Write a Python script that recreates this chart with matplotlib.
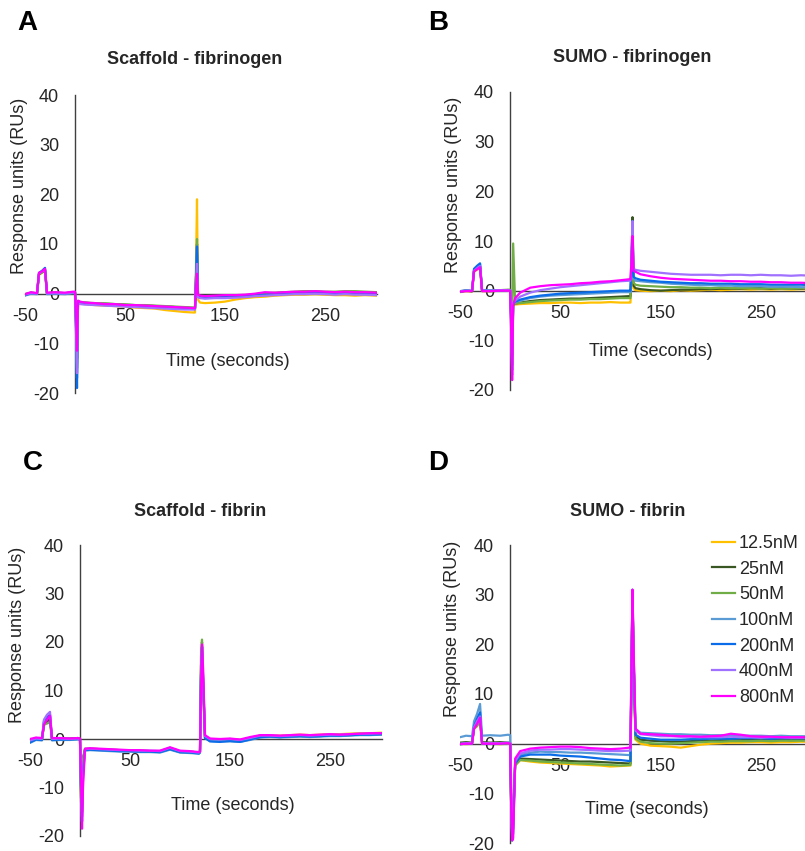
import numpy as np
import matplotlib.pyplot as plt

plt.rcParams['font.family'] = ['Liberation Sans', 'DejaVu Sans']
plt.rcParams['axes.unicode_minus'] = False

# sample times (seconds), shared by every sensorgram
time_s = [-50, -44, -38, -36, -33, -30, -28, -20, -10, -2,
          0, 1, 2, 3, 5,
          10, 20, 30, 40, 50, 60, 70, 80, 90, 100, 110,
          119, 120, 121, 122, 123, 125,
          130, 140, 150, 160, 170, 180, 190, 200, 210, 220, 230, 240, 250, 260, 270, 280, 290, 302]

conc_labels = ['12.5nM', '25nM', '50nM', '100nM', '200nM', '400nM', '800nM']
line_colors = ['#FFC000', '#385723', '#70AD47', '#5B9BD5', '#0A6CE8', '#A070FF', '#FF00FF']

# A: Scaffold - fibrinogen
a_125 = [-0.2, 0.1, 0.0, 3.8, 4.2, 4.6, 0.0, 0.1, 0.0, 0.2,
         0.2, -5, -14, -1.6, -2.0,
         -2.1, -2.3, -2.4, -2.5, -2.6, -2.8, -2.9, -3.0, -3.3, -3.5, -3.7,
         -3.8, -3.8, 6, 19, -1.2, -1.8,
         -1.9, -1.8, -1.6, -1.2, -0.9, -0.7, -0.6, -0.4, -0.3, -0.2, -0.2, -0.1, -0.2, -0.3, -0.3, -0.4, -0.3, -0.4]
a_25 = [-0.1, 0.2, 0.1, 3.9, 4.3, 4.7, 0.1, 0.2, 0.1, 0.3,
        0.3, -5, -13, -1.5, -1.7,
        -1.8, -2.0, -2.0, -2.1, -2.2, -2.3, -2.4, -2.5, -2.6, -2.7, -2.8,
        -2.9, -2.9, 3, 10, -0.4, -0.6,
        -0.7, -0.6, -0.5, -0.5, -0.4, -0.2, 0.0, 0.1, 0.2, 0.3, 0.4, 0.4, 0.3, 0.2, 0.3, 0.2, 0.2, 0.1]
a_50 = [-0.1, 0.1, 0.1, 4.0, 4.4, 4.8, 0.1, 0.2, 0.1, 0.2,
        0.3, -6, -15, -1.5, -1.7,
        -1.8, -1.9, -2.0, -2.1, -2.2, -2.3, -2.3, -2.4, -2.5, -2.6, -2.7,
        -2.8, -2.8, 4, 11, -0.3, -0.5,
        -0.6, -0.5, -0.5, -0.4, -0.3, -0.1, 0.1, 0.2, 0.3, 0.4, 0.5, 0.5, 0.4, 0.4, 0.5, 0.5, 0.4, 0.3]
a_100 = [-0.4, 0.0, -0.1, 4.1, 4.5, 5.0, -0.1, 0.0, -0.1, 0.1,
         0.2, -7, -17, -1.8, -2.0,
         -2.0, -2.2, -2.3, -2.4, -2.5, -2.6, -2.7, -2.8, -2.8, -2.9, -3.0,
         -3.1, -3.1, 3, 9, -0.6, -0.8,
         -0.9, -0.8, -0.8, -0.7, -0.6, -0.4, -0.3, -0.2, -0.1, 0.0, 0.0, 0.1, 0.0, -0.1, 0.0, -0.1, -0.1, -0.2]
a_200 = [-0.3, 0.1, 0.0, 4.2, 4.6, 5.2, 0.0, 0.1, 0.0, 0.2,
         0.2, -7, -19, -1.7, -1.9,
         -2.0, -2.1, -2.2, -2.3, -2.4, -2.5, -2.6, -2.7, -2.8, -2.9, -3.0,
         -3.0, -3.0, 3, 9.5, -0.5, -0.7,
         -0.8, -0.7, -0.7, -0.6, -0.5, -0.3, -0.2, -0.1, 0.0, 0.1, 0.1, 0.2, 0.1, 0.0, 0.1, 0.0, 0.0, -0.1]
a_400 = [-0.2, 0.1, 0.0, 4.0, 4.4, 4.9, 0.0, 0.1, 0.0, 0.2,
         0.2, -6, -16, -1.9, -2.1,
         -2.2, -2.3, -2.4, -2.5, -2.6, -2.7, -2.8, -2.9, -3.0, -3.1, -3.2,
         -3.2, -3.2, 2, 6, -0.7, -0.9,
         -1.0, -0.9, -0.9, -0.8, -0.7, -0.5, -0.4, -0.3, -0.2, -0.1, -0.1, 0.0, -0.1, -0.2, -0.1, -0.2, -0.2, -0.3]
a_800 = [-0.1, 0.3, 0.1, 4.2, 4.5, 5.0, 0.2, 0.3, 0.2, 0.4,
         0.4, -4, -11.5, -1.4, -1.6,
         -1.8, -1.9, -2.1, -2.1, -2.3, -2.3, -2.4, -2.5, -2.6, -2.7, -2.8,
         -2.9, -2.9, 1.5, 4, -0.2, -0.4,
         -0.5, -0.4, -0.3, -0.3, -0.2, 0.0, 0.3, 0.2, 0.3, 0.4, 0.4, 0.5, 0.4, 0.3, 0.4, 0.3, 0.3, 0.2]

# B: SUMO - fibrinogen
b_125 = [-0.3, -0.1, -0.2, 3.8, 4.2, 4.6, -0.1, -0.1, 0.0, 0.0,
         0.0, -5, -14, -3.0, -2.8,
         -2.7, -2.6, -2.5, -2.5, -2.4, -2.4, -2.5, -2.4, -2.4, -2.3, -2.4,
         -2.4, -2.4, 3, 11, 0.5, 0.1,
         0.0, -0.1, 0.0, -0.1, 0.1, 0.0, 0.1, 0.2, 0.1, 0.2, 0.3, 0.2, 0.3, 0.2, 0.3, 0.2, 0.3, 0.2]
b_25 = [-0.2, 0.0, -0.1, 4.0, 4.4, 4.8, 0.0, -0.1, 0.0, 0.1,
        0.1, -5, -13, -2.8, -2.6,
        -2.4, -2.1, -1.9, -1.8, -1.7, -1.6, -1.6, -1.5, -1.4, -1.3, -1.2,
        -1.1, -1.1, 5, 14.8, 1.0, 0.5,
        0.3, 0.1, 0.0, 0.1, 0.2, 0.2, 0.3, 0.3, 0.4, 0.4, 0.4, 0.5, 0.5, 0.4, 0.5, 0.4, 0.4, 0.4]
b_50 = [-0.2, 0.1, -0.1, 4.0, 4.4, 4.9, 0.0, 0.0, 0.1, 0.2,
        0.2, -3, -6, 9.5, -2.6,
        -2.5, -2.3, -2.1, -2.0, -1.9, -1.8, -1.8, -1.7, -1.7, -1.6, -1.5,
        -1.5, -1.5, 4, 12, 1.6, 1.2,
        1.0, 0.9, 0.8, 0.7, 0.7, 0.6, 0.6, 0.5, 0.6, 0.5, 0.5, 0.5, 0.4, 0.5, 0.4, 0.4, 0.5, 0.4]
b_100 = [-0.1, 0.1, 0.0, 4.3, 4.8, 5.3, 0.1, 0.0, 0.1, 0.1,
         0.1, -6, -15, -2.6, -2.3,
         -2.0, -1.5, -1.2, -1.0, -0.9, -0.8, -0.7, -0.6, -0.5, -0.4, -0.3,
         -0.3, -0.3, 5, 14, 2.4, 2.0,
         1.9, 1.7, 1.6, 1.4, 1.3, 1.2, 1.1, 1.1, 1.0, 1.0, 0.9, 0.9, 0.9, 0.8, 0.8, 0.8, 0.7, 0.7]
b_200 = [-0.2, 0.0, -0.1, 4.4, 5.0, 5.5, 0.0, 0.0, 0.0, 0.1,
         0.1, -6, -16, -2.5, -2.2,
         -1.8, -1.3, -1.0, -0.8, -0.6, -0.5, -0.4, -0.3, -0.2, -0.1, 0.0,
         0.0, 0.0, 5, 14, 2.8, 2.5,
         2.2, 2.0, 1.8, 1.7, 1.6, 1.5, 1.5, 1.4, 1.4, 1.4, 1.3, 1.3, 1.3, 1.2, 1.2, 1.2, 1.2, 1.1]
b_400 = [-0.1, 0.0, 0.0, 4.0, 4.5, 5.0, 0.0, 0.0, 0.1, 0.1,
         0.1, -7, -17, -2.4, -2.0,
         -1.2, -0.4, 0.1, 0.4, 0.7, 0.9, 1.1, 1.3, 1.5, 1.7, 1.9,
         2.0, 2.0, 6, 14, 4.4, 4.2,
         4.0, 3.8, 3.6, 3.4, 3.3, 3.2, 3.2, 3.2, 3.1, 3.2, 3.2, 3.1, 3.2, 3.1, 3.1, 3.0, 3.1, 3.0]
b_800 = [-0.2, -0.1, -0.1, 3.9, 4.3, 4.7, -0.1, -0.1, 0.0, 0.0,
         0.0, -8, -18, -3.0, -1.5,
         -0.4, 0.6, 0.9, 1.1, 1.2, 1.3, 1.5, 1.6, 1.8, 1.9, 2.1,
         2.3, 2.3, 6, 11, 4.0, 3.8,
         3.3, 2.9, 2.6, 2.4, 2.3, 2.2, 2.1, 2.0, 2.0, 1.9, 1.9, 1.8, 1.8, 1.7, 1.7, 1.6, 1.6, 1.5]

# C: Scaffold - fibrin
c_125 = [-0.4, 0.1, 0.0, 2.8, 3.5, 4.0, 0.0, 0.1, 0.0, 0.1,
         0.0, -11, -15, -4, -2.1,
         -2.0, -2.1, -2.2, -2.3, -2.4, -2.4, -2.5, -2.5, -1.9, -2.6, -2.6,
         -2.8, -2.6, 14, 19, 12, 0.5,
         -0.1, -0.2, -0.1, -0.2, 0.2, 0.7, 0.7, 0.7, 0.8, 0.9, 0.8, 0.9, 1.0, 1.0, 1.1, 1.2, 1.2, 1.3]
c_25 = [-0.3, 0.2, 0.1, 2.9, 3.6, 4.1, 0.1, 0.1, 0.1, 0.2,
        0.1, -12, -15, -4, -2.2,
        -2.1, -2.2, -2.3, -2.4, -2.5, -2.5, -2.6, -2.6, -2.0, -2.7, -2.7,
        -2.9, -2.7, 15, 20, 12, 0.3,
        -0.3, -0.4, -0.3, -0.4, 0.0, 0.4, 0.5, 0.4, 0.5, 0.6, 0.5, 0.6, 0.7, 0.7, 0.8, 0.9, 0.9, 1.0]
c_50 = [-0.2, 0.1, 0.0, 3.0, 3.2, 3.4, 0.0, 0.1, 0.0, 0.1,
        0.0, -13, -14, -4, -2.0,
        -2.0, -2.1, -2.2, -2.3, -2.4, -2.4, -2.5, -2.5, -1.9, -2.6, -2.6,
        -2.8, -2.2, 17, 20.5, 11, 0.4,
        -0.2, -0.3, -0.2, -0.3, 0.1, 0.5, 0.6, 0.5, 0.6, 0.7, 0.6, 0.7, 0.8, 0.8, 0.9, 1.0, 1.0, 1.1]
c_100 = [-0.8, -0.2, -0.3, 3.5, 4.2, 4.8, -0.3, -0.2, -0.2, -0.1,
         -0.2, -10, -17, -6, -2.4,
         -2.3, -2.4, -2.5, -2.6, -2.6, -2.7, -2.7, -2.8, -2.2, -2.8, -2.9,
         -3.0, -2.8, 13, 19, 13, 0.2,
         -0.4, -0.5, -0.5, -0.6, -0.2, 0.3, 0.4, 0.3, 0.4, 0.5, 0.4, 0.5, 0.6, 0.6, 0.7, 0.8, 0.8, 0.9]
c_200 = [-0.7, -0.1, -0.2, 3.8, 4.5, 5.0, -0.2, -0.1, -0.1, 0.0,
         -0.1, -10, -17, -7, -2.3,
         -2.2, -2.3, -2.4, -2.5, -2.5, -2.6, -2.6, -2.7, -2.1, -2.7, -2.8,
         -3.0, -2.7, 13, 19, 13, 0.2,
         -0.5, -0.6, -0.4, -0.6, -0.1, 0.4, 0.5, 0.4, 0.5, 0.6, 0.5, 0.6, 0.7, 0.7, 0.8, 0.9, 0.9, 1.0]
c_400 = [-0.3, 0.1, 0.0, 4.0, 5.0, 5.6, 0.0, 0.1, 0.0, 0.1,
         0.0, -9, -16, -8, -2.1,
         -2.0, -2.1, -2.2, -2.3, -2.3, -2.4, -2.4, -2.5, -1.8, -2.5, -2.6,
         -2.8, -2.6, 12, 19, 14, 0.6,
         0.0, -0.1, 0.0, -0.2, 0.2, 0.7, 0.7, 0.6, 0.7, 0.8, 0.7, 0.8, 0.9, 0.9, 1.0, 1.1, 1.1, 1.2]
c_800 = [0.0, 0.3, 0.2, 3.0, 4.0, 4.8, 0.2, 0.2, 0.1, 0.2,
         0.1, -8, -18.5, -10, -2.0,
         -1.9, -2.0, -2.1, -2.2, -2.3, -2.3, -2.4, -2.4, -1.7, -2.4, -2.5,
         -2.7, -2.6, 10, 19.5, 15, 0.8,
         0.1, 0.0, 0.1, -0.1, 0.4, 0.8, 0.8, 0.7, 0.8, 0.9, 0.8, 0.9, 1.0, 0.9, 1.0, 1.1, 1.2, 1.2]

# D: SUMO - fibrin
d_125 = [0.0, -0.1, 0.0, 3.0, 3.5, 4.5, 0.0, 0.0, -0.1, 0.0,
         0.0, -12, -18, -15, -4.5,
         -3.3, -3.6, -3.8, -3.9, -4.0, -4.1, -4.2, -4.3, -4.4, -4.6, -4.5,
         -4.4, -4.4, 15, 30, 18, 0.8,
         0.0, -0.4, -0.5, -0.6, -0.8, -0.5, -0.2, 0.0, 0.1, 0.2, 0.2, 0.3, 0.3, 0.2, 0.3, 0.3, 0.4, 0.3]
d_25 = [0.2, 0.3, 0.2, 3.2, 3.8, 4.8, 0.3, 0.2, 0.3, 0.2,
        0.2, -12, -18, -15, -4.2,
        -3.0, -3.1, -3.2, -3.3, -3.4, -3.5, -3.6, -3.6, -3.7, -3.8, -3.9,
        -4.0, -4.0, 15, 30, 18, 1.5,
        0.8, 0.6, 0.5, 0.4, 0.4, 0.5, 0.6, 0.6, 0.7, 0.7, 0.7, 0.8, 0.7, 0.8, 0.8, 0.7, 0.8, 0.8]
d_50 = [-0.1, 0.0, 0.0, 3.0, 3.6, 4.6, 0.0, 0.0, 0.0, 0.1,
        0.0, -12, -18, -15, -4.3,
        -3.3, -3.4, -3.6, -3.7, -3.8, -3.9, -4.0, -4.1, -4.2, -4.3, -4.4,
        -4.3, -4.3, 15, 30, 18, 1.0,
        0.4, 0.1, 0.0, 0.0, 0.1, 0.2, 0.3, 0.4, 0.4, 0.5, 0.5, 0.5, 0.6, 0.5, 0.6, 0.6, 0.6, 0.6]
d_100 = [1.3, 1.6, 1.5, 4.5, 6.0, 8.0, 1.6, 1.7, 1.6, 1.8,
         1.7, -8, -18, -17, -3.8,
         -2.3, -1.8, -1.6, -1.7, -1.7, -1.8, -1.8, -1.9, -2.0, -2.1, -2.2,
         -2.3, -2.3, 16, 31, 19, 3.0,
         2.2, 2.1, 2.0, 1.9, 1.9, 1.8, 1.8, 1.7, 1.7, 1.7, 1.6, 1.6, 1.6, 1.5, 1.6, 1.5, 1.5, 1.5]
d_200 = [-0.1, 0.0, 0.0, 3.5, 5.0, 6.3, 0.0, 0.0, 0.0, 0.1,
         0.0, -12, -19.5, -18, -4.0,
         -2.6, -2.2, -2.2, -2.2, -2.4, -2.5, -2.6, -2.8, -3.0, -3.2, -3.3,
         -3.5, -3.5, 15, 30, 18, 1.8,
         1.2, 1.0, 0.8, 0.8, 0.8, 0.9, 0.9, 1.0, 1.0, 1.0, 1.1, 1.1, 1.1, 1.0, 1.1, 1.1, 1.1, 1.0]
d_400 = [0.0, 0.1, 0.1, 3.3, 4.5, 5.5, 0.1, 0.1, 0.1, 0.2,
         0.1, -11, -19, -17, -3.5,
         -2.0, -1.4, -1.2, -1.2, -1.1, -1.1, -1.2, -1.3, -1.4, -1.5, -1.5,
         -1.4, -1.4, 16, 31, 19, 2.6,
         1.9, 1.7, 1.5, 1.5, 1.4, 1.4, 1.3, 1.3, 1.3, 1.4, 1.3, 1.3, 1.2, 1.3, 1.3, 1.2, 1.2, 1.2]
d_800 = [-0.1, 0.0, 0.0, 3.0, 4.0, 5.2, 0.0, 0.0, 0.0, 0.1,
         0.0, -12, -19.5, -19, -3.0,
         -1.5, -1.0, -0.8, -0.7, -0.6, -0.6, -0.7, -0.9, -1.0, -1.1, -1.0,
         -0.8, -0.8, 16, 31, 20, 3.0,
         2.0, 1.9, 1.8, 1.6, 1.5, 1.5, 1.4, 1.5, 1.6, 2.0, 1.8, 1.5, 1.4, 1.4, 1.3, 1.3, 1.3, 1.3]

W, H = 805, 851
fig = plt.figure(figsize=(W / 100, H / 100), dpi=100)


def px_text(x, y, s, **kw):
    fig.text(x / W, 1 - y / H, s, **kw)


panels = [
    # series, letter, title, axes box (left, top, right, bottom px), letter xy, title xy, xlabel xy, ylabel xy
    ([a_125, a_25, a_50, a_100, a_200, a_400, a_800], 'A', 'Scaffold - fibrinogen',
     (25, 95, 377, 393), (27, 23), (195, 60), (228, 361), (20, 186)),
    ([b_125, b_25, b_50, b_100, b_200, b_400, b_800], 'B', 'SUMO - fibrinogen',
     (460, 92, 813, 390), (438, 23), (632, 57), (651, 352), (453, 185)),
    ([c_125, c_25, c_50, c_100, c_200, c_400, c_800], 'C', 'Scaffold - fibrin',
     (30, 545, 382, 836), (33, 463), (200, 511), (233, 806), (18, 635)),
    ([d_125, d_25, d_50, d_100, d_200, d_400, d_800], 'D', 'SUMO - fibrin',
     (460, 545, 813, 843), (438, 463), (628, 511), (647, 810), (452, 629)),
]

text_col = '#262626'
for series, letter, title, box, lxy, txy, xlxy, ylxy in panels:
    l, t, r, b = box
    ax = fig.add_axes([l / W, 1 - b / H, (r - l) / W, (b - t) / H])
    ax.patch.set_alpha(0)
    for vals, lab, col in zip(series, conc_labels, line_colors):
        ax.plot(time_s, vals, color=col, lw=1.6, label=lab)
    ax.set_xlim(-50, 302)
    ax.set_ylim(-20, 40)
    ax.set_xticks([-50, 50, 150, 250])
    ax.set_yticks([-20, -10, 0, 10, 20, 30, 40])
    for side in ['top', 'right']:
        ax.spines[side].set_visible(False)
    for side in ['left', 'bottom']:
        ax.spines[side].set_position(('data', 0))
        ax.spines[side].set_color('#404040')
        ax.spines[side].set_linewidth(1.0)
        ax.spines[side].set_zorder(1)
    ax.tick_params(length=0, labelsize=13, labelcolor=text_col)
    ax.tick_params(axis='x', pad=10)
    ax.tick_params(axis='y', pad=11.5)

    px_text(*lxy, letter, fontsize=20, fontweight='bold', ha='center', va='center', color='black')
    px_text(*txy, title, fontsize=13, fontweight='bold', ha='center', va='center', color=text_col)
    px_text(*xlxy, 'Time (seconds)', fontsize=13, ha='center', va='center', color=text_col)
    px_text(*ylxy, 'Response units (RUs)', fontsize=13, ha='center', va='center',
            rotation=90, color=text_col)

    if letter == 'D':
        ax.legend(loc='upper left', bbox_to_anchor=(712 / W, 1 - 535 / H),
                  bbox_transform=fig.transFigure, frameon=False, fontsize=13,
                  handlelength=1.3, handletextpad=0.2, labelspacing=0.48,
                  borderpad=0, borderaxespad=0)
        for txt in ax.get_legend().get_texts():
            txt.set_color(text_col)

fig.savefig('out.png', dpi=100)
